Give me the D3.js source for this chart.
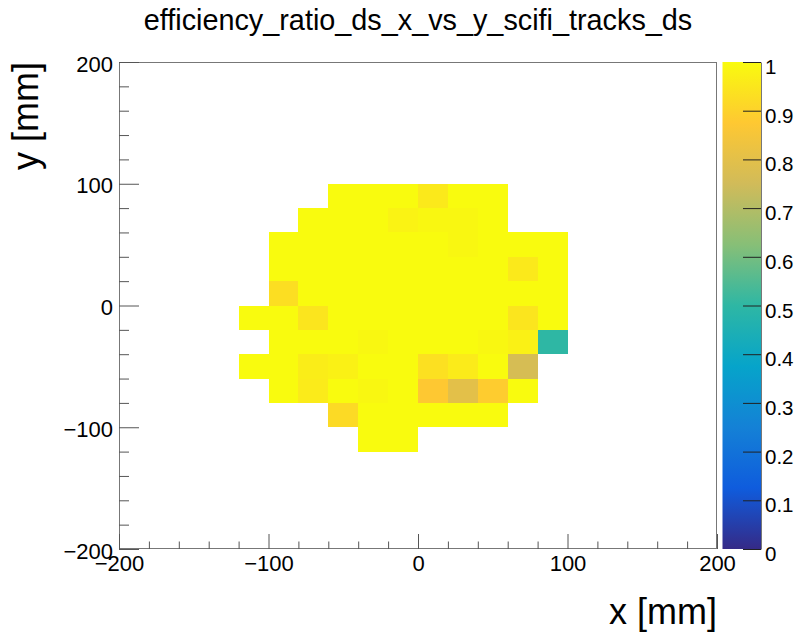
<!DOCTYPE html>
<html>
<head>
<meta charset="utf-8">
<script src="https://cdn.jsdelivr.net/npm/d3@7"></script>
<style>
  body { margin: 0; background: #fff; }
  text { font-family: "Liberation Sans", Arial, sans-serif; fill: #000; }
</style>
</head>
<body>
<div id="chart"></div>
<script>
// bins are 20 mm wide; each row: lower y edge, first bin's lower x edge, ratios
const binSize = 20;
const rowY = [80, 60, 40, 20, 0, -20, -40, -60, -80, -100, -120];
const rowXStart = [-60, -80, -100, -100, -100, -120, -100, -120, -100, -60, -40];
const rowValues = [
  [1, 1, 1, 0.955, 1, 1],
  [1, 1, 1, 0.98, 0.99, 0.99, 1],
  [1, 1, 1, 1, 1, 1, 0.99, 1, 1, 1],
  [1, 1, 1, 1, 1, 1, 1, 1, 0.955, 1],
  [0.93, 1, 1, 1, 1, 1, 1, 1, 1, 1],
  [1, 1, 0.945, 1, 1, 1, 1, 1, 1, 0.945, 1],
  [1, 1, 1, 0.99, 1, 1, 1, 0.99, 0.975, 0.5],
  [1, 1, 0.965, 0.975, 1, 1, 0.935, 0.96, 1, 0.765],
  [1, 0.96, 1, 0.99, 1, 0.875, 0.8, 0.885, 1],
  [0.92, 1, 1, 1, 1, 1],
  [1, 1]
];
const majorTicks = [-200, -100, 0, 100, 200];
const minorTicks = d3.range(-200, 201, 20).filter(v => v % 100 !== 0);
const zTicks = [0, 0.1, 0.2, 0.3, 0.4, 0.5, 0.6, 0.7, 0.8, 0.9, 1];

// ROOT kBird palette
const birdStops = [0, 0.125, 0.25, 0.375, 0.5, 0.625, 0.75, 0.875, 1];
const birdR = [0.2082, 0.0592, 0.0780, 0.0232, 0.1802, 0.5301, 0.8186, 0.9956, 0.9764];
const birdG = [0.1664, 0.3599, 0.5041, 0.6419, 0.7178, 0.7492, 0.7328, 0.7862, 0.9832];
const birdB = [0.5293, 0.8684, 0.8385, 0.7914, 0.6425, 0.4662, 0.3499, 0.1968, 0.0539];
const birdColors = birdStops.map((s, i) =>
  d3.rgb(birdR[i] * 255, birdG[i] * 255, birdB[i] * 255).formatHex());

const W = 794, H = 636;
const L = 119, R = 717, T = 62, B = 549;
const font = '"Liberation Sans", Arial, sans-serif';

const svg = d3.select('#chart').append('svg')
  .attr('width', W).attr('height', H);

const x = d3.scaleLinear().domain([-200, 200]).range([L, R]);
const y = d3.scaleLinear().domain([-200, 200]).range([B, T]);
const z = d3.scaleLinear().domain([0, 1]).range([B, T]);
const color = d3.scaleLinear().domain(birdStops).range(birdColors)
  .interpolate(d3.interpolateRgb).clamp(true);

// cells
const cells = [];
rowY.forEach((yy, r) => {
  rowValues[r].forEach((v, i) => {
    cells.push({ x0: rowXStart[r] + i * binSize, y0: yy, v: v });
  });
});

svg.append('g').selectAll('rect').data(cells).join('rect')
  .attr('x', d => x(d.x0))
  .attr('y', d => y(d.y0 + binSize))
  .attr('width', d => x(d.x0 + binSize) - x(d.x0))
  .attr('height', d => y(d.y0) - y(d.y0 + binSize))
  .attr('fill', d => color(d.v))
  .attr('shape-rendering', 'crispEdges');

// frame
svg.append('rect')
  .attr('x', L + 0.5).attr('y', T + 0.5)
  .attr('width', R - L - 1).attr('height', B - T - 1)
  .attr('fill', 'none').attr('stroke', '#777');

// x axis
const xMajor = svg.append('g').attr('transform', `translate(0,${B})`)
  .call(d3.axisBottom(x).tickValues(majorTicks).tickSizeInner(-15).tickSizeOuter(0).tickPadding(6));
const xMinor = svg.append('g').attr('transform', `translate(0,${B})`)
  .call(d3.axisBottom(x).tickValues(minorTicks).tickSizeInner(-7.5).tickSizeOuter(0).tickFormat(''));

// y axis
const yMajor = svg.append('g').attr('transform', `translate(${L},0)`)
  .call(d3.axisLeft(y).tickValues(majorTicks).tickSizeInner(-20).tickSizeOuter(0).tickPadding(6));
const yMinor = svg.append('g').attr('transform', `translate(${L},0)`)
  .call(d3.axisLeft(y).tickValues(minorTicks).tickSizeInner(-10).tickSizeOuter(0).tickFormat(''));

[xMajor, xMinor, yMajor, yMinor].forEach(g => {
  g.select('.domain').remove();
  g.selectAll('line').attr('stroke', '#555');
  g.selectAll('text').attr('font-family', font).attr('font-size', 22).attr('fill', '#000');
});
yMajor.selectAll('text').attr('dy', 9);

// colour bar
const cbL = 722.5, cbR = 761;
const grad = svg.append('defs').append('linearGradient')
  .attr('id', 'bird')
  .attr('x1', '0%').attr('x2', '0%')
  .attr('y1', '100%').attr('y2', '0%');
birdStops.forEach((s, i) => {
  grad.append('stop').attr('offset', (s * 100) + '%').attr('stop-color', birdColors[i]);
});
svg.append('rect')
  .attr('x', cbL).attr('y', z(1))
  .attr('width', cbR - cbL).attr('height', z(0) - z(1))
  .attr('fill', 'url(#bird)');

const zAxis = svg.append('g').attr('transform', `translate(${cbR},0)`)
  .call(d3.axisRight(z).tickValues(zTicks).tickSizeInner(-18).tickSizeOuter(0).tickPadding(4)
    .tickFormat(d3.format('~g')));
zAxis.select('.domain').attr('stroke', '#777');
zAxis.selectAll('line').attr('stroke', '#222');
zAxis.selectAll('text').attr('font-family', font).attr('font-size', 20.5).attr('fill', '#000').attr('dy', 11.5);

// titles
svg.append('text')
  .attr('x', (L + R) / 2).attr('y', 30)
  .attr('text-anchor', 'middle')
  .attr('font-size', 28.8)
  .text('efficiency_ratio_ds_x_vs_y_scifi_tracks_ds');

svg.append('text')
  .attr('x', R).attr('y', 624)
  .attr('text-anchor', 'end')
  .attr('font-size', 36)
  .text('x [mm]');

svg.append('text')
  .attr('transform', `translate(38,${T}) rotate(-90)`)
  .attr('text-anchor', 'end')
  .attr('font-size', 36)
  .text('y [mm]');
</script>
</body>
</html>
